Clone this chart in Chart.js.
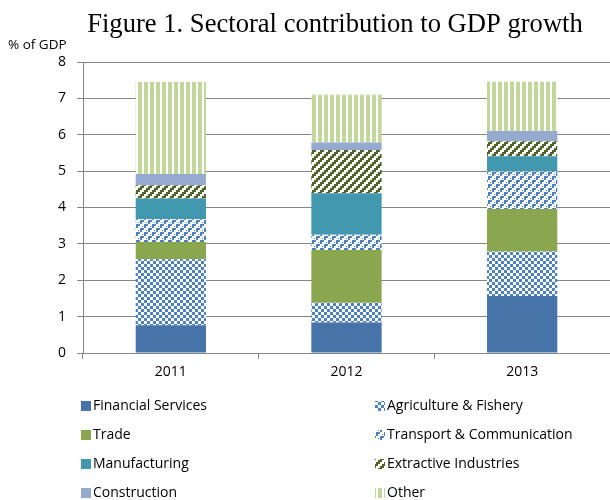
<!DOCTYPE html>
<html>
<head>
<meta charset="utf-8">
<script src="https://cdn.jsdelivr.net/npm/chart.js@4/dist/chart.umd.min.js"></script>
<style>
  html, body { margin: 0; padding: 0; background: #fff; }
</style>
</head>
<body>
<canvas id="chart_gdp" width="610" height="500"></canvas>
<script>
'use strict';

const years = ['2011', '2012', '2013'];

// contribution to growth, percentage points of GDP
const financialServices = [0.76, 0.84, 1.57];
const agriculture = [1.82, 0.54, 1.22];
const trade = [0.47, 1.45, 1.17];
const transport = [0.63, 0.42, 1.03];
const manufacturing = [0.57, 1.14, 0.42];
const extractive = [0.36, 1.19, 0.41];
const construction = [0.31, 0.21, 0.28];
const other = [2.53, 1.31, 1.36];

const TITLE = 'Figure 1. Sectoral contribution to GDP growth';
const UNIT = '% of GDP';
const GRID = '#868686';
const FONT = '"Open Sans", sans-serif';

function makePattern(size, fg, paint) {
    let c = document.createElement('canvas');
    c.width = c.height = size;
    let g = c.getContext('2d');
    g.fillStyle = '#fff';
    g.fillRect(0, 0, size, size);
    g.fillStyle = fg;
    paint(g);
    return g.createPattern(c, 'repeat');
}

const checker = makePattern(6, '#4f81bd', g => {
    g.fillRect(0, 0, 3, 3);
    g.fillRect(3, 3, 3, 3);
});
const confetti = makePattern(8, '#4f81bd', g => {
    g.fillRect(0, 0, 4, 2);
    g.fillRect(0, 2, 2, 2);
    g.fillRect(4, 4, 4, 2);
    g.fillRect(4, 6, 2, 2);
    g.fillRect(6, 2, 1, 1);
    g.fillRect(2, 6, 1, 1);
});
const diagonal = makePattern(8, '#4f6228', g => {
    for (let r = 0; r < 4; r++) {
        let start = (6 - 2 * r + 8) % 8;
        for (let k = 0; k < 4; k++) {
            g.fillRect((start + k) % 8, r * 2, 1, 2);
        }
    }
});
const vertical = makePattern(6, '#c3d69b', g => {
    g.fillRect(0, 0, 4, 6);
});

const datasets = [
    {label: 'Financial Services', data: financialServices, backgroundColor: '#4674a8'},
    {label: 'Agriculture & Fishery', data: agriculture, backgroundColor: checker},
    {label: 'Trade', data: trade, backgroundColor: '#8aa64f'},
    {label: 'Transport & Communication', data: transport, backgroundColor: confetti},
    {label: 'Manufacturing', data: manufacturing, backgroundColor: '#4198af'},
    {label: 'Extractive Industries', data: extractive, backgroundColor: diagonal},
    {label: 'Construction', data: construction, backgroundColor: '#94aacf'},
    {label: 'Other', data: other, backgroundColor: vertical}
];

// title, unit label and the two-column legend
const chartText = {
    id: 'chartText',
    afterDraw(chart) {
        let ctx = chart.ctx;
        ctx.save();
        ctx.fillStyle = '#000';
        ctx.font = '26.6px "Liberation Serif", serif';
        ctx.textAlign = 'center';
        ctx.textBaseline = 'alphabetic';
        ctx.fillText(TITLE, 335, 32);

        ctx.font = '13.5px ' + FONT;
        ctx.textAlign = 'left';
        ctx.textBaseline = 'middle';
        ctx.fillText(UNIT, 8, 45);

        ctx.font = '14px ' + FONT;
        chart.data.datasets.forEach((ds, i) => {
            let x = i % 2 ? 375 : 81,
                y = 406 + Math.floor(i / 2) * 29;
            ctx.fillStyle = ds.backgroundColor;
            ctx.fillRect(x, y - 5, 10, 10);
            ctx.fillStyle = '#000';
            ctx.fillText(ds.label, x + 12, y);
        });
        ctx.restore();
    }
};

new Chart(document.getElementById('chart_gdp').getContext('2d'), {
    type: 'bar',
    data: {labels: years, datasets: datasets},
    options: {
        responsive: false,
        animation: false,
        events: [],
        layout: {padding: {top: 62, left: 0, right: 0, bottom: 120}},
        datasets: {
            bar: {barPercentage: 0.4, categoryPercentage: 1, borderWidth: 0}
        },
        plugins: {
            legend: {display: false},
            title: {display: false},
            tooltip: {enabled: false}
        },
        scales: {
            x: {
                stacked: true,
                afterFit: scale => { scale.height = 27; },
                grid: {drawOnChartArea: false, drawTicks: true, tickLength: 6, color: GRID, offset: true},
                border: {display: true, color: GRID},
                ticks: {color: '#000', padding: 5, font: {family: FONT, size: 14}}
            },
            y: {
                stacked: true,
                min: 0,
                max: 8,
                afterFit: scale => { scale.width = 83; },
                grid: {color: GRID, tickLength: 6},
                border: {display: true, color: GRID},
                ticks: {stepSize: 1, color: '#000', padding: 11, font: {family: FONT, size: 14}}
            }
        }
    },
    plugins: [chartText]
});
</script>
</body>
</html>
